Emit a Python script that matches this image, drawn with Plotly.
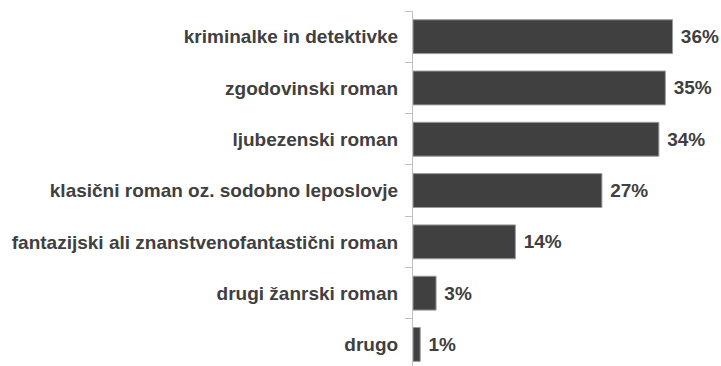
import plotly.graph_objects as go

categories = [
    "kriminalke in detektivke",
    "zgodovinski roman",
    "ljubezenski roman",
    "klasični roman oz. sodobno leposlovje",
    "fantazijski ali znanstvenofantastični roman",
    "drugi žanrski roman",
    "drugo",
]
values = [36.0, 35.0, 34.1, 26.2, 14.2, 3.2, 1.0]
value_labels = ["36%", "35%", "34%", "27%", "14%", "3%", "1%"]

fig = go.Figure(
    go.Bar(
        x=values,
        y=categories,
        orientation="h",
        text=["\u00a0" + t for t in value_labels],
        textposition="outside",
        cliponaxis=False,
        textfont=dict(family="Liberation Sans", size=19, color="#404040", weight="bold"),
        marker=dict(color="#404040", line=dict(color="#9a9a9a", width=1)),
        hoverinfo="skip",
    )
)

fig.update_layout(
    width=721,
    height=366,
    margin=dict(l=413, r=0, t=11, b=0),
    paper_bgcolor="white",
    plot_bgcolor="white",
    bargap=0.34,
    showlegend=False,
    font=dict(family="Liberation Sans", size=19, color="#404040"),
)
fig.update_xaxes(
    range=[0, 308 / 7.21],
    visible=False,
    showgrid=False,
    zeroline=False,
)
fig.update_yaxes(
    type="category",
    categoryorder="array",
    categoryarray=categories,
    range=[6.42, -0.5],
    showline=True,
    linecolor="#c0c0c0",
    linewidth=1,
    ticks="outside",
    tickson="boundaries",
    ticklen=7,
    tickcolor="#c0c0c0",
    ticklabelstandoff=10,
    showgrid=False,
    zeroline=False,
    tickfont=dict(family="Liberation Sans", size=19, color="#404040", weight="bold"),
)

fig.write_html("out.html")
